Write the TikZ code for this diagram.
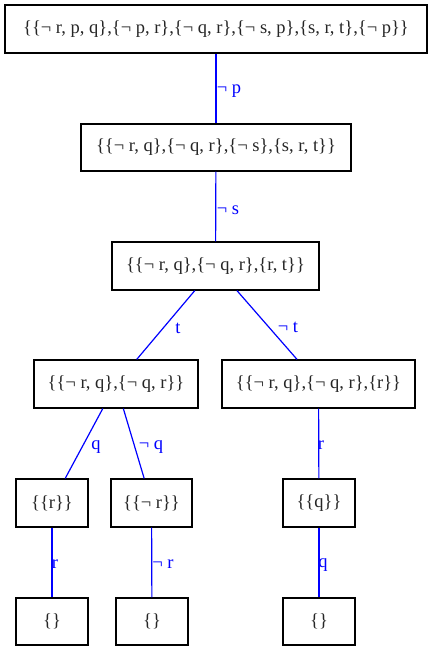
\documentclass[tikz,border=0pt]{standalone}
\usepackage{fontspec}
\setmainfont{Liberation Serif}
\begin{document}
\begin{tikzpicture}[x=1pt,y=-1pt,
  box/.style={draw=black,line width=1.2pt,rectangle,inner sep=0pt,minimum height=48pt,font=\fontsize{18.5}{20}\selectfont,text=black!85},
  edge/.style={draw=blue,line width=1.2pt},
  lbl/.style={text=blue,font=\fontsize{18.5}{20}\selectfont,inner sep=0pt}]
\useasboundingbox (0,0) rectangle (431,649);
\node[box,minimum width=422pt] (n1) at (216,29) {\{\{¬ r, p, q\},\{¬ p, r\},\{¬ q, r\},\{¬ s, p\},\{s, r, t\},\{¬ p\}\}};
\node[box,minimum width=270pt,minimum height=47pt] (n2) at (216,147.5) {\{\{¬ r, q\},\{¬ q, r\},\{¬ s\},\{s, r, t\}\}};
\node[box,minimum width=207pt] (n3) at (215.5,266) {\{\{¬ r, q\},\{¬ q, r\},\{r, t\}\}};
\node[box,minimum width=164pt] (n4) at (116,384) {\{\{¬ r, q\},\{¬ q, r\}\}};
\node[box,minimum width=193pt] (n5) at (318.5,384) {\{\{¬ r, q\},\{¬ q, r\},\{r\}\}};
\node[box,minimum width=72pt] (n6) at (52,503) {\{\{r\}\}};
\node[box,minimum width=81pt] (n7) at (151.5,503) {\{\{¬ r\}\}};
\node[box,minimum width=72pt] (n8) at (319,503) {\{\{q\}\}};
\node[box,minimum width=72pt,minimum height=47pt] (n9) at (52,621.5) {\{\}};
\node[box,minimum width=72pt,minimum height=47pt] (n10) at (152,621.5) {\{\}};
\node[box,minimum width=72pt,minimum height=47pt] (n11) at (319,621.5) {\{\}};
\draw[edge] (n1) -- (n2);
\draw[edge] (n2) -- (n3);
\draw[edge] (n3) -- (n4);
\draw[edge] (n3) -- (n5);
\draw[edge] (n4) -- (n6);
\draw[edge] (n4) -- (n7);
\draw[edge] (n5) -- (n8);
\draw[edge] (n6) -- (n9);
\draw[edge] (n7) -- (n10);
\draw[edge] (n8) -- (n11);
\node[lbl] (l1) at (229,91) {¬ p};
\node[lbl] (l2) at (228,210) {¬ s};
\node[lbl] (l3) at (178,328) {t};
\node[lbl] (l4) at (288,327) {¬ t};
\node[lbl] (l5) at (96,447) {q};
\node[lbl] (l6) at (151,447) {¬ q};
\node[lbl] (l7) at (321,445) {r};
\node[lbl] (l8) at (55,564) {r};
\node[lbl] (l9) at (163,564) {¬ r};
\node[lbl] (l10) at (323,565) {q};
\end{tikzpicture}
\end{document}
